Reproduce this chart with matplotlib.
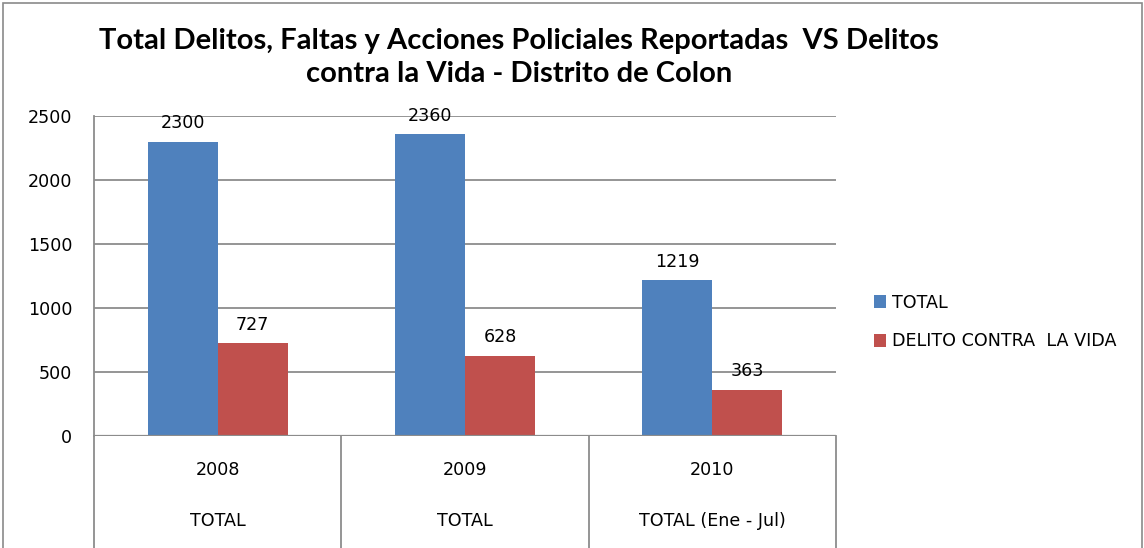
import matplotlib
matplotlib.use("Agg")
import matplotlib.pyplot as plt
import matplotlib.transforms as mtransforms
from matplotlib.patches import Rectangle, Patch

# Data
years = ["2008", "2009", "2010"]
groups = ["TOTAL", "TOTAL", "TOTAL (Ene - Jul)"]
series_names = ["TOTAL", "DELITO CONTRA  LA VIDA"]
total_vals = [2300, 2360, 1219]
vida_vals = [727, 628, 363]
yticks = [0, 500, 1000, 1500, 2000, 2500]
title_lines = ["Total Delitos, Faltas y Acciones Policiales Reportadas  VS Delitos",
               "contra la Vida - Distrito de Colon"]

BLUE = "#4F81BD"
RED = "#C0504D"
GRID = "#8C8C8C"

W, H = 1144, 548
fig = plt.figure(figsize=(W / 100, H / 100), dpi=100)
fig.patch.set_facecolor("white")

# outer chart border
fig.patches.append(Rectangle((3 / W, -0.01), (1142 - 3) / W, (H - 3) / H + 0.01,
                             transform=fig.transFigure, fill=False,
                             edgecolor="#8A8A8A", linewidth=1.2))

ax = fig.add_axes([94 / W, 112 / H, (836 - 94) / W, 320 / H])
x = list(range(len(years)))
bw = 0.283
ax.bar([i - bw / 2 for i in x], total_vals, width=bw, color=BLUE, zorder=3,
       label=series_names[0])
ax.bar([i + bw / 2 for i in x], vida_vals, width=bw, color=RED, zorder=3,
       label=series_names[1])

num_font = "DejaVu Sans"
FS = 12.6
for i in x:
    for xx, v in ((i - bw / 2, total_vals[i]), (i + bw / 2, vida_vals[i])):
        ax.annotate(str(v), (xx, v), xytext=(0, 9.5), textcoords="offset points",
                    ha="center", va="baseline", fontsize=FS, family=num_font,
                    color="black", zorder=5)

ax.set_xlim(-0.5, 2.5)
ax.set_ylim(0, 2500)
ax.set_yticks(yticks)
ax.set_yticklabels([str(t) for t in yticks], fontsize=FS, family=num_font)
ax.tick_params(axis="y", length=0, pad=15.5)
ax.set_xticks([])
ax.yaxis.grid(True, color=GRID, linewidth=1.3, zorder=0)
ax.set_axisbelow(True)
for s in ("top", "right", "bottom"):
    ax.spines[s].set_visible(False)
ax.spines["left"].set_color(GRID)
ax.spines["left"].set_linewidth(1.3)
ax.axhline(0, color=GRID, linewidth=1.6, zorder=4)

# multi-level category axis
trans = mtransforms.blended_transform_factory(ax.transData, ax.transAxes)
ybot = -(H - 112 + 5) / 320
for b in [-0.5, 0.5, 1.5, 2.5]:
    ax.plot([b, b], [0, ybot], transform=trans, color=GRID, linewidth=1.3,
            clip_on=False, zorder=4)
for i in x:
    ax.text(i, -(470 - 436) / 320, years[i], transform=trans, ha="center",
            va="center", fontsize=FS, family=num_font)
    ax.text(i, -(521 - 436) / 320, groups[i], transform=trans, ha="center",
            va="center", fontsize=FS, family=num_font)

# legend
handles = [Patch(facecolor=BLUE, edgecolor="none"), Patch(facecolor=RED, edgecolor="none")]
fig.legend(handles, series_names, loc="center left",
           bbox_to_anchor=(874 / W, 1 - 322 / H), frameon=False,
           prop={"family": "DejaVu Sans", "size": FS},
           handlelength=0.7, handleheight=0.7, handletextpad=0.35,
           labelspacing=1.2, borderpad=0, borderaxespad=0)

for line, yc in zip(title_lines, (41, 74)):
    fig.text(519 / W, 1 - yc / H, line, ha="center", va="center",
             fontsize=21, fontweight="bold", family="Lato")

fig.savefig("out.png", dpi=100)
